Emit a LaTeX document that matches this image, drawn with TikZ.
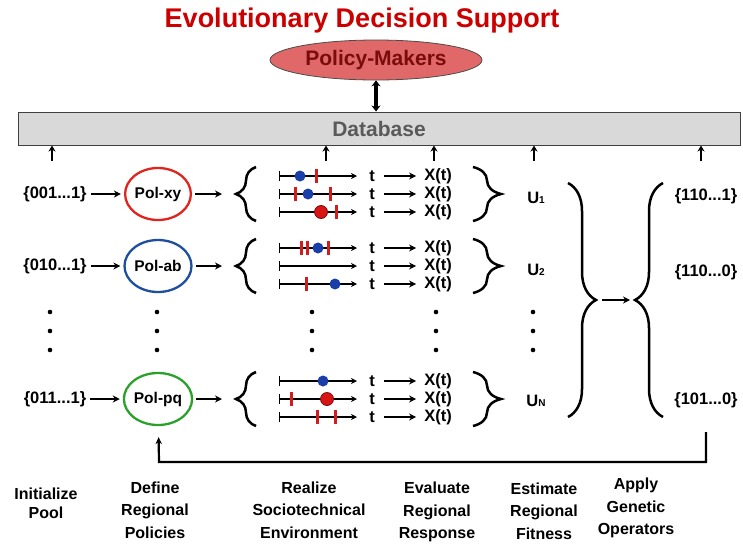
\documentclass[tikz,border=0pt]{standalone}
\usepackage{fontspec}
\setmainfont{Liberation Sans}
\usepackage{xcolor}
\usepackage{tikz}
\usetikzlibrary{positioning,arrows.meta,shapes.geometric,decorations.pathreplacing}

\definecolor{titlered}{HTML}{CC0000}
\definecolor{pmfill}{HTML}{E06868}
\definecolor{pmtext}{HTML}{7A0C0C}
\definecolor{dbfill}{HTML}{D9D9D9}
\definecolor{dbtext}{HTML}{5A5A5A}
\definecolor{polred}{HTML}{E0241F}
\definecolor{polblue}{HTML}{1F4E9E}
\definecolor{polgreen}{HTML}{2CA02C}
\definecolor{dotblue}{HTML}{1A3FA8}
\definecolor{dotred}{HTML}{D81414}
\definecolor{tickred}{HTML}{D41C1C}

\newcommand{\fsz}[1]{\fontsize{#1}{#1}\selectfont\bfseries}
\newcommand{\usub}[1]{\raisebox{-0.5pt}{\fontsize{10}{10}\selectfont #1}}

\tikzset{
  lbl/.style={font=\fsz{16.5}, inner sep=1pt},
  pol/.style={draw, ellipse, line width=2.3pt, minimum width=62pt, minimum height=52pt, inner sep=0pt, font=\fsz{15.5}},
  arr/.style={-{Stealth[length=7pt,width=7pt]}, line width=1.8pt},
  upa/.style={-{Stealth[length=6pt,width=7pt]}, line width=2.4pt},
  brc/.style={decorate, decoration={brace, amplitude=#1}, line width=2.5pt},
  brc/.default=20pt,
  tline/.style={{Bar[width=10pt]}-{Stealth[length=6pt,width=6pt]}, line width=1.2pt},
  bdot/.style={fill=dotblue},
  rdot/.style={fill=dotred, draw=pmtext, line width=0.8pt},
  rtick/.style={draw=tickred, line width=3pt},
  bottomlbl/.style={font=\fontsize{16}{22.5}\selectfont\bfseries, align=center},
}

\begin{document}
\begin{tikzpicture}[x=1pt, y=-1pt]
\fill[white] (0,0) rectangle (743,544);
\useasboundingbox (0,0) rectangle (743,544);

\node[text=titlered, font=\fsz{27}] (title) at (362,21) {Evolutionary Decision Support};
\node[draw=black!70, line width=0.8pt, fill=pmfill, ellipse, minimum width=212pt, minimum height=40pt, text=pmtext, font=\fsz{21}] (pm) at (376,60) {Policy-Makers};
\node[draw=black!75, line width=1pt, fill=dbfill, minimum width=722pt, minimum height=33pt, text=dbtext, font=\fsz{21}] (db) at (379,128.5) {Database};
\draw[{Stealth[length=6pt,width=9pt]}-{Stealth[length=6pt,width=9pt]}, line width=3.4pt] (pm) -- (pm |- db.north);

\coordinate (ua) at (52,161);
\coordinate (ub) at (326,161);
\coordinate (uc) at (434,161);
\coordinate (ud) at (534,161);
\coordinate (ue) at (701,161);
\draw[upa] (ua) -- (ua |- db.south);
\draw[upa] (ub) -- (ub |- db.south);
\draw[upa] (uc) -- (uc |- db.south);
\draw[upa] (ud) -- (ud |- db.south);
\draw[upa] (ue) -- (ue |- db.south);

\node[lbl] (p1) at (55,194) {\{001...1\}};
\node[lbl] (p2) at (55,266) {\{010...1\}};
\node[lbl] (p3) at (55,399) {\{011...1\}};
\node[pol, draw=polred] (pol1) at (158,194) {Pol-xy};
\node[pol, draw=polblue] (pol2) at (158,266) {Pol-ab};
\node[pol, draw=polgreen] (pol3) at (158,399) {Pol-pq};
\draw[arr, shorten <=3pt, shorten >=3pt] (p1) -- (pol1);
\draw[arr, shorten <=3pt, shorten >=3pt] (p2) -- (pol2);
\draw[arr, shorten <=3pt, shorten >=3pt] (p3) -- (pol3);

\coordinate (lb1) at (234,194);
\coordinate (lb2) at (234,266);
\coordinate (lb3) at (234,399);
\draw[arr, shorten <=3pt, shorten >=12pt] (pol1) -- (lb1);
\draw[arr, shorten <=3pt, shorten >=12pt] (pol2) -- (lb2);
\draw[arr, shorten <=3pt, shorten >=12pt] (pol3) -- (lb3);
\draw[brc] (256,221) -- (256,167);
\draw[brc] (256,293) -- (256,239);
\draw[brc] (256,426) -- (256,372);

\draw[tline] (279,176) -- (357,176);
\draw[tline] (279,194) -- (357,194);
\draw[tline] (279,212) -- (357,212);
\draw[tline] (279,248) -- (357,248);
\draw[tline] (279,266) -- (357,266);
\draw[tline] (279,284) -- (357,284);
\draw[tline] (279,381) -- (357,381);
\draw[tline] (279,399) -- (357,399);
\draw[tline] (279,417) -- (357,417);

\fill[bdot] (300,176) circle (5.5);
\draw[rtick] (316,169) -- (316,183);
\draw[rtick] (295,187) -- (295,201);
\fill[bdot] (308,194) circle (5.5);
\draw[rtick] (330,187) -- (330,201);
\draw[rdot] (321,212) circle (6.5);
\draw[rtick] (336,205) -- (336,219);
\draw[rtick] (301,241) -- (301,255);
\draw[rtick] (307,241) -- (307,255);
\fill[bdot] (318,248) circle (5.5);
\draw[rtick] (328,241) -- (328,255);
\draw[rtick] (306,277) -- (306,291);
\fill[bdot] (335,284) circle (5.5);
\fill[bdot] (323,381) circle (5.5);
\draw[rtick] (291,392) -- (291,406);
\draw[rdot] (327,399) circle (6.5);
\draw[rtick] (317,410) -- (317,424);
\draw[rtick] (335,410) -- (335,424);

\node[lbl] (t11) at (372,176) {t};
\node[lbl] (t12) at (372,194) {t};
\node[lbl] (t13) at (372,212) {t};
\node[lbl] (t21) at (372,248) {t};
\node[lbl] (t22) at (372,266) {t};
\node[lbl] (t23) at (372,284) {t};
\node[lbl] (t31) at (372,381) {t};
\node[lbl] (t32) at (372,399) {t};
\node[lbl] (t33) at (372,417) {t};
\node[lbl] (x11) at (438,176) {X(t)};
\node[lbl] (x12) at (438,194) {X(t)};
\node[lbl] (x13) at (438,212) {X(t)};
\node[lbl] (x21) at (438,248) {X(t)};
\node[lbl] (x22) at (438,266) {X(t)};
\node[lbl] (x23) at (438,284) {X(t)};
\node[lbl] (x31) at (438,381) {X(t)};
\node[lbl] (x32) at (438,399) {X(t)};
\node[lbl] (x33) at (438,417) {X(t)};
\draw[arr, shorten <=8pt, shorten >=7pt] (t11) -- (x11);
\draw[arr, shorten <=8pt, shorten >=7pt] (t12) -- (x12);
\draw[arr, shorten <=8pt, shorten >=7pt] (t13) -- (x13);
\draw[arr, shorten <=8pt, shorten >=7pt] (t21) -- (x21);
\draw[arr, shorten <=8pt, shorten >=7pt] (t22) -- (x22);
\draw[arr, shorten <=8pt, shorten >=7pt] (t23) -- (x23);
\draw[arr, shorten <=8pt, shorten >=7pt] (t31) -- (x31);
\draw[arr, shorten <=8pt, shorten >=7pt] (t32) -- (x32);
\draw[arr, shorten <=8pt, shorten >=7pt] (t33) -- (x33);

\draw[brc=28pt] (473,167) -- (473,221);
\draw[brc=28pt] (473,239) -- (473,293);
\draw[brc=28pt] (473,372) -- (473,426);
\node[lbl] (u1) at (536,198) {U\usub{1}};
\node[lbl] (u2) at (536,270) {U\usub{2}};
\node[lbl] (un) at (536,401) {U\usub{N}};

\draw[brc=28pt] (568,183) -- (568,417);
\draw[brc=28pt] (663,417) -- (663,183);
\coordinate (bt) at (596,300);
\coordinate (ct) at (635,300);
\draw[arr, shorten <=6pt, shorten >=5pt] (bt) -- (ct);

\node[lbl] (o1) at (706,196) {\{110...1\}};
\node[lbl] (o2) at (706,272) {\{110...0\}};
\node[lbl] (o3) at (706,400) {\{101...0\}};

\coordinate (fa) at (706,432);
\coordinate (fb) at (159,462);
\draw[-{Stealth[length=7pt,width=6.5pt]}, line width=2.2pt, shorten >=11pt] (fa) |- (fb) -- (pol3);

\foreach \x in {50,157,312,436,533}
  \foreach \y in {312,331,350}
    \fill (\x,\y) circle (2.3);

\node[bottomlbl, font=\fontsize{16}{19}\selectfont\bfseries] (init) at (46,503) {Initialize\\Pool};
\node[bottomlbl] (define) at (155,510) {Define\\Regional\\Policies};
\node[bottomlbl] (realize) at (309,510) {Realize\\Sociotechnical\\Environment};
\node[bottomlbl] (evaluate) at (437,512) {Evaluate\\Regional\\Response};
\node[bottomlbl] (estimate) at (544,511) {Estimate\\Regional\\Fitness};
\node[bottomlbl] (apply) at (636,508) {Apply\\Genetic\\Operators};
\end{tikzpicture}
\end{document}
